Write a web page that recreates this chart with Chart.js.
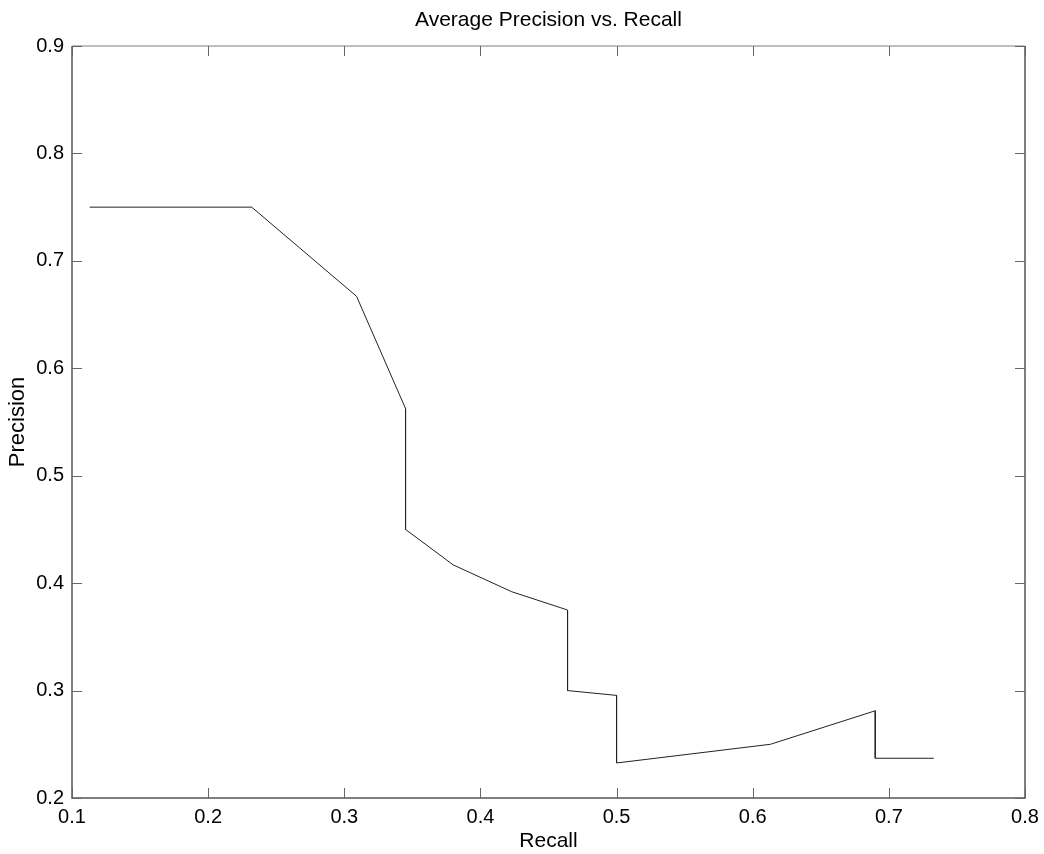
<!DOCTYPE html>
<html>
<head>
<meta charset="utf-8">
<script src="https://cdn.jsdelivr.net/npm/chart.js@4/dist/chart.umd.min.js"></script>
<style>
  html, body { margin: 0; padding: 0; background: #fff; }
  #wrap { width: 1044px; height: 854px; }
</style>
</head>
<body>
<div id="wrap"><canvas id="prChart" width="1044" height="854"></canvas></div>
<script>
// values
const recall = [0.113, 0.232, 0.309, 0.345, 0.345, 0.380, 0.423, 0.464, 0.464, 0.500, 0.500, 0.613, 0.690, 0.690, 0.733];
const precision = [0.750, 0.750, 0.667, 0.5625, 0.450, 0.417, 0.392, 0.375, 0.300, 0.2955, 0.2326, 0.250, 0.2812, 0.237, 0.237];
const xTicks = [0.1, 0.2, 0.3, 0.4, 0.5, 0.6, 0.7, 0.8];
const yTicks = [0.2, 0.3, 0.4, 0.5, 0.6, 0.7, 0.8, 0.9];

const FONT = '"Liberation Sans", Arial, Helvetica, sans-serif';

// matlab style box with inward ticks
const boxPlugin = {
  id: 'box',
  afterDraw(chart) {
    const {ctx, chartArea: a, scales: {x, y}} = chart;
    ctx.save();
    ctx.lineWidth = 1.5;
    ctx.strokeStyle = '#aaa';
    ctx.beginPath();
    ctx.moveTo(a.left, a.top); ctx.lineTo(a.right, a.top);
    ctx.stroke();
    ctx.strokeStyle = '#555';
    ctx.beginPath();
    ctx.moveTo(a.left, a.top); ctx.lineTo(a.left, a.bottom);
    ctx.lineTo(a.right, a.bottom); ctx.lineTo(a.right, a.top);
    ctx.stroke();

    ctx.lineWidth = 1;
    ctx.strokeStyle = '#666';
    const len = 10;
    ctx.beginPath();
    xTicks.forEach(v => {
      const px = Math.round(x.getPixelForValue(v)) + 0.5;
      ctx.moveTo(px, a.bottom); ctx.lineTo(px, a.bottom - len);
      ctx.moveTo(px, a.top); ctx.lineTo(px, a.top + len);
    });
    yTicks.forEach(v => {
      const py = Math.round(y.getPixelForValue(v)) + 0.5;
      ctx.moveTo(a.left, py); ctx.lineTo(a.left + len, py);
      ctx.moveTo(a.right, py); ctx.lineTo(a.right - len, py);
    });
    ctx.stroke();
    ctx.restore();
  }
};

const ctx = document.getElementById('prChart').getContext('2d');
const prChart = new Chart(ctx, {
  type: 'scatter',
  data: {
    datasets: [{
      label: 'Average Precision',
      data: recall.map((r, i) => ({x: r, y: precision[i]})),
      showLine: true,
      borderColor: '#222',
      borderWidth: 1,
      pointRadius: 0,
      tension: 0
    }]
  },
  options: {
    responsive: false,
    animation: false,
    layout: { padding: { left: 0, right: 19, top: 0, bottom: 0 } },
    plugins: {
      legend: { display: false },
      tooltip: { enabled: false },
      title: {
        display: true,
        fullSize: false,
        text: 'Average Precision vs. Recall',
        color: '#000',
        font: { family: FONT, size: 21, weight: 'normal' },
        padding: { top: 8, bottom: 12.8 }
      }
    },
    scales: {
      x: {
        type: 'linear',
        min: 0.1,
        max: 0.8,
        grid: { display: false, drawTicks: false },
        border: { display: false },
        afterFit: s => { s.height = 56; s.paddingLeft = 0; s.paddingRight = 0; },
        afterBuildTicks: s => { s.ticks = xTicks.map(v => ({value: v})); },
        ticks: {
          color: '#000',
          padding: 7,
          maxRotation: 0,
          font: { family: FONT, size: 20 },
          callback: v => v.toFixed(1)
        },
        title: {
          display: true,
          text: 'Recall',
          color: '#000',
          font: { family: FONT, size: 21 },
          padding: { top: 0, bottom: 0 }
        }
      },
      y: {
        type: 'linear',
        min: 0.2,
        max: 0.9,
        grid: { display: false, drawTicks: false },
        border: { display: false },
        afterFit: s => { s.width = 72; },
        afterBuildTicks: s => { s.ticks = yTicks.map(v => ({value: v})); },
        ticks: {
          color: '#000',
          padding: 8,
          font: { family: FONT, size: 20 },
          callback: v => v.toFixed(1)
        },
        title: {
          display: true,
          text: 'Precision',
          color: '#000',
          font: { family: FONT, size: 22 },
          padding: { top: 5, bottom: 0 }
        }
      }
    }
  },
  plugins: [boxPlugin]
});
</script>
</body>
</html>
